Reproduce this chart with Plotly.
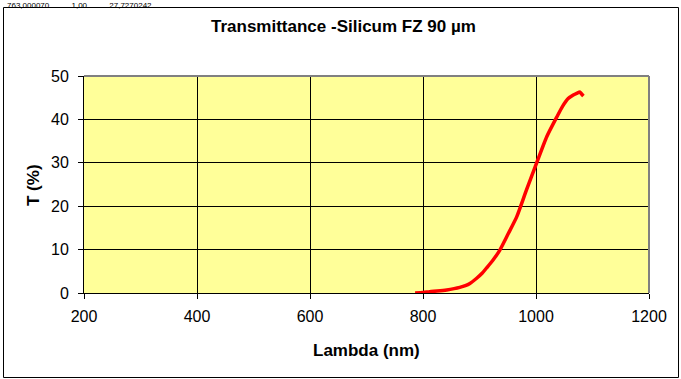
import plotly.graph_objects as go

# Data
wavelength_nm = [786, 800, 812, 825, 842, 855, 865, 875, 883, 895, 905, 912, 924, 936,
                 951, 966, 983, 1001, 1019, 1037, 1047, 1057, 1066, 1072, 1078, 1081, 1084]
transmittance = [0.0, 0.1, 0.3, 0.45, 0.7, 1.0, 1.3, 1.7, 2.2, 3.4, 4.6, 5.7, 7.6, 9.9,
                 13.7, 17.6, 23.7, 29.9, 36.0, 40.6, 43.0, 44.8, 45.6, 46.0, 46.3, 45.8, 45.4]

x_ticks = [200, 400, 600, 800, 1000, 1200]
y_ticks = [0, 10, 20, 30, 40, 50]

title_text = "Transmittance -Silicum FZ 90 µm"
x_title = "Lambda (nm)"
y_title = "T (%)"
header_text = "763,000070          1,00          27,7270242"

W, H = 681, 379
L, R, T, B = 84, 649, 76, 293
pw, ph = R - L, B - T

def px(x):
    return (x - L) / pw

def py(y):
    return (B - y) / ph

font_family = "Liberation Sans, Arial, sans-serif"
TICK_SIZE = 16
TITLE_SIZE = 17

fig = go.Figure()
fig.add_trace(go.Scatter(
    x=wavelength_nm, y=transmittance, mode="lines",
    line=dict(color="#FF0000", width=3.5, shape="spline", smoothing=0.6),
    showlegend=False, hoverinfo="skip",
))

fig.update_layout(
    width=W, height=H,
    margin=dict(l=L, r=W - R, t=T, b=H - B, pad=0),
    paper_bgcolor="white",
    plot_bgcolor="#FFFF99",
    font=dict(family=font_family, size=TICK_SIZE, color="black"),
    showlegend=False,
)

fig.update_xaxes(
    range=[200, 1200], tickvals=x_ticks, ticktext=[str(v) for v in x_ticks],
    showgrid=True, gridcolor="#000000", gridwidth=1,
    showline=True, linecolor="black", linewidth=1,
    ticks="outside", ticklen=5, tickcolor="black", tickwidth=1,
    tickfont=dict(size=TICK_SIZE, family=font_family),
    ticklabelstandoff=4,
    zeroline=False, fixedrange=True,
)
fig.update_yaxes(
    range=[0, 50], tickvals=y_ticks, ticktext=[str(v) for v in y_ticks],
    showgrid=True, gridcolor="#000000", gridwidth=1,
    showline=True, linecolor="black", linewidth=1,
    ticks="outside", ticklen=5, tickcolor="black", tickwidth=1,
    tickfont=dict(size=TICK_SIZE, family=font_family),
    ticklabelstandoff=6,
    zeroline=False, fixedrange=True,
)

shapes = [
    # gray plot-area border (top & right)
    dict(type="line", xref="paper", yref="paper", x0=0, x1=1, y0=1, y1=1,
         line=dict(color="#808080", width=2), layer="above"),
    dict(type="line", xref="paper", yref="paper", x0=1, x1=1, y0=0, y1=1,
         line=dict(color="#808080", width=2), layer="above"),
    # outer chart border
    dict(type="rect", xref="paper", yref="paper",
         x0=px(3.5), x1=px(678.5), y0=py(377.5), y1=py(7.5),
         line=dict(color="black", width=1), fillcolor="rgba(0,0,0,0)", layer="below"),
]
fig.update_layout(shapes=shapes)

annotations = [
    dict(text="<b>" + title_text + "</b>", xref="paper", yref="paper",
         x=px(343), y=py(26), xanchor="center", yanchor="middle",
         showarrow=False, font=dict(size=TITLE_SIZE, family=font_family)),
    dict(text="<b>" + x_title + "</b>", xref="paper", yref="paper",
         x=px(366), y=py(350), xanchor="center", yanchor="middle",
         showarrow=False, font=dict(size=TITLE_SIZE, family=font_family)),
    dict(text="<b>" + y_title + "</b>", xref="paper", yref="paper",
         x=px(33), y=py(185), xanchor="center", yanchor="middle", textangle=-90,
         showarrow=False, font=dict(size=TITLE_SIZE, family=font_family)),
    dict(text=header_text, xref="paper", yref="paper",
         x=px(5), y=py(-1), xanchor="left", yanchor="top",
         showarrow=False, font=dict(size=8, family=font_family)),
]
fig.update_layout(annotations=annotations)

fig.write_html("out.html",
               config={"displayModeBar": False, "staticPlot": True},
               post_script="document.body.style.margin='0';document.body.style.overflow='hidden';")
